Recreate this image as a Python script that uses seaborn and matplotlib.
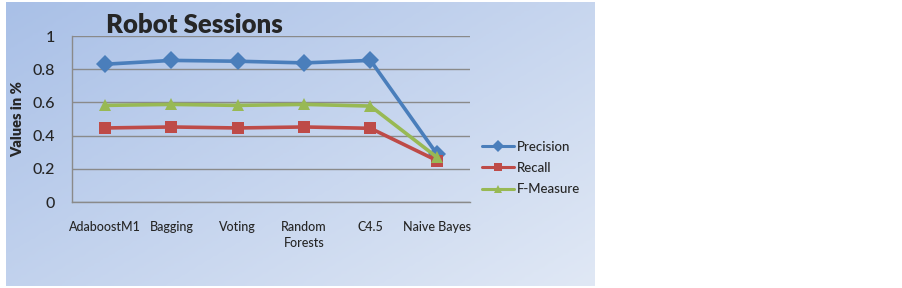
import numpy as np
import pandas as pd
import seaborn as sns
import matplotlib.pyplot as plt
from matplotlib.colors import LinearSegmentedColormap

# data
classifiers = ['AdaboostM1', 'Bagging', 'Voting', 'Random\nForests', 'C4.5', 'Naive Bayes']
precision = [0.83, 0.853, 0.848, 0.838, 0.853, 0.29]
recall = [0.446, 0.452, 0.446, 0.452, 0.444, 0.25]
f_measure = [0.582, 0.588, 0.582, 0.588, 0.578, 0.27]
metrics = ['Precision', 'Recall', 'F-Measure']
colors = ['#4a7ebb', '#be4b48', '#98b954']

df = pd.DataFrame({
    'pos': list(range(len(classifiers))) * 3,
    'value': precision + recall + f_measure,
    'metric': [m for m in metrics for _ in classifiers],
})

sns.set_theme(style='white')
plt.rcParams['font.family'] = ['Lato', 'DejaVu Sans']

W, H = 902, 288
fig = plt.figure(figsize=(W / 100, H / 100), dpi=100, facecolor='white')

# gradient panel behind the chart
bg = fig.add_axes([6 / W, 2 / H, 589 / W, 284 / H], zorder=0)
gx, gy = np.meshgrid(np.linspace(0, 1, 200), np.linspace(0, 1, 100))
grad = 0.55 * gx + 0.45 * gy
cmap = LinearSegmentedColormap.from_list('bg', ['#a9c0e7', '#e0e8f5'])
bg.imshow(grad, cmap=cmap, aspect='auto', extent=[0, 1, 0, 1], origin='upper')
bg.set_axis_off()

ax = fig.add_axes([72 / W, 86 / H, 398 / W, 166 / H], zorder=1)
ax.patch.set_alpha(0)

sns.lineplot(data=df, x='pos', y='value', hue='metric', style='metric',
             hue_order=metrics, style_order=metrics, palette=colors,
             markers=['D', 's', '^'], dashes=False, linewidth=2.6,
             markersize=9, markeredgewidth=0, ax=ax, legend=False)

ax.set_xlim(-0.5, len(classifiers) - 0.5)
ax.set_ylim(0, 1)
ax.set_yticks(np.arange(0, 1.01, 0.2))
ax.set_yticklabels(['0', '0.2', '0.4', '0.6', '0.8', '1'], fontsize=11.5,
                   fontweight='medium')
ax.set_xticks(range(len(classifiers)))
ax.set_xticklabels(classifiers, fontsize=9, fontweight='medium', va='top',
                   linespacing=1.4)
ax.tick_params(axis='x', pad=14, length=0)
ax.tick_params(axis='y', pad=12, length=0)
ax.yaxis.grid(True, color='#8a8a8a', linewidth=1)
ax.set_axisbelow(True)
for side in ['top', 'right']:
    ax.spines[side].set_visible(False)
for side in ['left', 'bottom']:
    ax.spines[side].set_color('#8a8a8a')
    ax.spines[side].set_linewidth(1)
ax.set_xlabel('')
ax.set_ylabel('Values in %', fontsize=10.5, fontweight='heavy', labelpad=6)

fig.text(106 / W, 1 - 25 / H, 'Robot Sessions', fontsize=18.5, fontweight='heavy',
         ha='left', va='center')

# legend
handles = [plt.Line2D([], [], color=c, marker=mk, linewidth=2.2, markersize=6,
                      markeredgewidth=0)
           for c, mk in zip(colors, ['D', 's', '^'])]
fig.legend(handles, metrics, loc='center left', bbox_to_anchor=(470 / W, 1 - 168 / H),
           frameon=False, fontsize=9.5, handlelength=2.4, handletextpad=0.25,
           labelspacing=0.7, prop={'weight': 'medium', 'size': 9.5})

fig.savefig('out.png', dpi=100, facecolor='white')
